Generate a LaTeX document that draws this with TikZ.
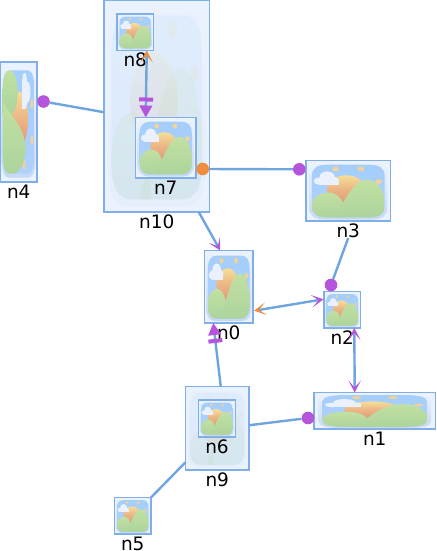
\documentclass[tikz,border=0pt]{standalone}
\usepackage{fontspec}
\usepackage{xcolor}
\usetikzlibrary{positioning,arrows.meta}
\setmainfont{DejaVu Sans}

\definecolor{boxline}{HTML}{7FAEE8}
\definecolor{boxfill}{HTML}{EAF2FE}
\definecolor{linkblue}{HTML}{6FA5DE}
\definecolor{tipviolet}{HTML}{B455DC}
\definecolor{tiporange}{HTML}{F08C3E}
\definecolor{rimlow}{HTML}{C6D8F6}
\definecolor{skyhigh}{HTML}{A4CEFB}
\definecolor{skylow}{HTML}{AFD0FD}
\definecolor{sunhigh}{HTML}{F6DE98}
\definecolor{sunlow}{HTML}{E49A78}
\definecolor{sparkcol}{HTML}{F2D29A}
\definecolor{cloudcol}{HTML}{EAF1FD}
\definecolor{hillhigh}{HTML}{C2E0A2}
\definecolor{hilllow}{HTML}{ACD49C}

\tikzset{
    uprightart/.style 2 args={x={(#1pt/100,0)},y={(0,-#2pt/100)}},
    turnedart/.style 2 args={xshift=#1pt,x={(0,-#2pt/100)},y={(-#1pt/100,0)}},
    swallowviolet/.tip={Stealth[length=12pt, width=12.5pt, inset=7pt, color=tipviolet]},
    swalloworange/.tip={Stealth[length=12pt, width=12.5pt, inset=7pt, color=tiporange]},
    barviolet/.tip={Rectangle[length=4pt, width=14pt, color=tipviolet, sep=4pt]Triangle[length=12pt, width=12.5pt, color=tipviolet]}
}

% the landscape picture, in a square of 100 by 100
\newcommand{\artshape}{(25,7) -- (75,7) .. controls (87,7) and (93,13) .. (93,25) -- (93,76) .. controls (93,88) and (87,94) .. (75,94) -- (25,94) .. controls (13,94) and (7,88) .. (7,76) -- (7,25) .. controls (7,13) and (13,7) .. (25,7) -- cycle}
\newcommand{\iconart}{
    \shade [top color=boxfill, bottom color=rimlow, shift={(50,50)}, scale=1.08, shift={(-50,-50)}] \artshape;
    \begin{scope}
        \clip \artshape;
        \shade [top color=skyhigh, bottom color=skylow] (0,0) rectangle (100,100);
        \shade [top color=sunhigh, bottom color=sunlow, middle color=sunlow!60!sunhigh] (47.5,47) circle [radius=22.5];
        \fill [sparkcol] (35,14) circle [radius=4];
        \fill [sparkcol] (65,14) circle [radius=4];
        \fill [sparkcol] (86,35) circle [radius=4];
        \fill [cloudcol] (15,34) circle [radius=6];
        \fill [cloudcol] (25,27) circle [radius=9];
        \fill [cloudcol] (33,33) circle [radius=6];
        \fill [cloudcol] (15,33) rectangle (39,40);
        \shade [top color=hillhigh, bottom color=hilllow] (7,94) -- (7,72) .. controls (9,58) and (18,53) .. (27,53) .. controls (36,53) and (42,62) .. (44,72) -- (44,94) -- cycle;
        \shade [top color=hillhigh, bottom color=hilllow] (33,94) .. controls (42,80) and (54,32) .. (72,32) .. controls (85,32) and (90,48) .. (93,60) -- (93,94) -- cycle;
    \end{scope}
}

% one box with its picture and its name under it
\newcommand{\imgnode}[7][uprightart]{
    \node [imgbox, minimum width=#5pt, minimum height=#6pt] (#2) at (#3,#4) {};
    \node [namelabel, below=2.5pt of #2] (#2lab) {#2};
    \begin{scope}[shift={(#2.north west)}, #1={#5}{#6}, opacity=#7]
        \iconart
    \end{scope}
}

\begin{document}
\begin{tikzpicture}[x=1pt, y=-1pt]
    % Styles
    \tikzstyle{imgbox} = [rectangle, draw=boxline, fill=boxfill, line width=1.3pt, inner sep=0pt, outer sep=0pt]
    \tikzstyle{namelabel} = [inner sep=0pt, font=\fontsize{18.5}{19}\selectfont]
    \tikzstyle{violetdot} = [circle, fill=tipviolet, minimum size=12.6pt, inner sep=0pt]
    \tikzstyle{orangedot} = [circle, fill=tiporange, minimum size=12.6pt, inner sep=0pt]
    \tikzstyle{link} = [draw=linkblue, line width=2.4pt]

    \useasboundingbox (0,0) rectangle (436,551);

    % Nodes
    \imgnode{n10}{156.75}{106.25}{105.5}{211.5}{0.14}
    \imgnode[turnedart]{n4}{18.75}{122}{36.5}{120}{1}
    \imgnode{n8}{135.25}{32.25}{36.5}{36.5}{1}
    \imgnode{n7}{165.75}{147.75}{60.5}{60.5}{1}
    \imgnode{n3}{348.25}{190.75}{84.5}{60.5}{1}
    \imgnode{n0}{228.75}{286.75}{48.5}{72.5}{1}
    \imgnode{n2}{342.25}{309.75}{36.5}{36.5}{1}
    \imgnode{n1}{374.75}{410.75}{121.5}{36.5}{1}
    \imgnode{n9}{217.25}{428.25}{63.5}{83.5}{0.14}
    \imgnode{n6}{217}{418.5}{37}{37}{1}
    \imgnode{n5}{132.75}{515.75}{36.5}{36.5}{1}

    \node [violetdot] (dot4) at (43.5,101.5) {};
    \node [orangedot] (dot7) at (202.7,169) {};
    \node [violetdot] (dot3) at (299.3,169.3) {};
    \node [violetdot] (dot2) at (331,285) {};
    \node [violetdot] (dot1) at (308,418) {};

    % Arrows
    \draw [link] (dot4) -- ([yshift=-6pt]n10.west);
    \draw [link, -{swallowviolet}] ([xshift=42pt]n10.south) -- ([xshift=-8.5pt]n0.north);
    \draw [link] (dot7) -- (dot3);
    \draw [link] (n3lab.south) -- (dot2);
    \draw [link, {swalloworange}-{swallowviolet}] ([xshift=1pt, yshift=-24pt]n0.east) -- ([xshift=-.5pt, yshift=10.5pt]n2.west);
    \draw [link, {swallowviolet}-{swallowviolet}] ([xshift=12pt]n2.south) -- ([xshift=-20pt]n1.north);
    \draw [link, -{barviolet}] ([xshift=3.5pt]n9.north) -- ([xshift=-15.5pt]n0.south);
    \draw [link] ([yshift=3pt]n9.east) -- (dot1);
    \draw [link] (n5.north east) -- ([yshift=-34pt]n9.west);
    \draw [link, {swalloworange}-{barviolet}] ([xshift=11.5pt]n8.south) -- ([xshift=-20pt]n7.north);
\end{tikzpicture}
\end{document}
